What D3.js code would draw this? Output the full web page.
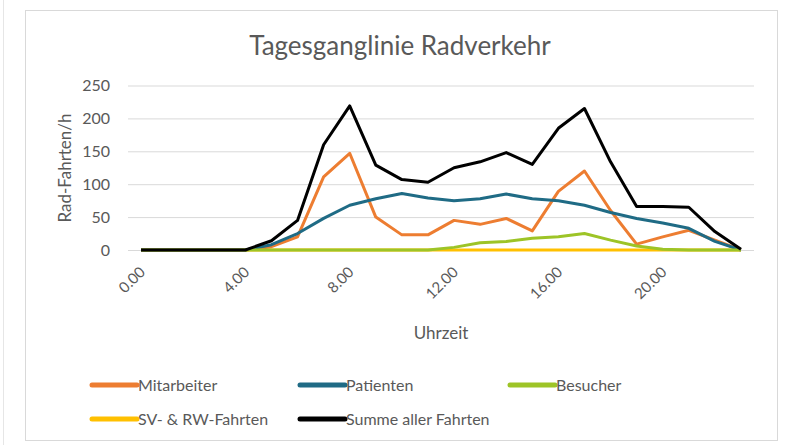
<!DOCTYPE html>
<html lang="de">
<head>
	<meta charset="UTF-8">
	<title>Tagesganglinie Radverkehr</title>
	<script src="https://cdnjs.cloudflare.com/ajax/libs/d3/7.8.5/d3.min.js"></script>
	<style>
		html,body{margin:0;padding:0;background:#fff;}
		svg{display:block;font-family:Lato,"Open Sans",sans-serif;}
	</style>
</head>
<body>
	<svg id="svg" width="790" height="445"></svg>
	<script>
		// hourly values
		var hours = ["0.00","1.00","2.00","3.00","4.00","5.00","6.00","7.00","8.00","9.00","10.00","11.00",
			"12.00","13.00","14.00","15.00","16.00","17.00","18.00","19.00","20.00","21.00","22.00","23.00"];
		var tickLabels = ["0.00","4.00","8.00","12.00","16.00","20.00"];
		var yTicks = [0,50,100,150,200,250];

		var mitarbeiter = [0,0,0,0,0,5,20,111,147,50,23,23,45,39,48,29,89,120,60,9,20,30,15,0];
		var patienten   = [0,0,0,0,0,8,25,48,68,78,86,79,75,78,85,78,75,68,57,48,41,33,13,0];
		var besucher    = [0,0,0,0,0,0,0,0,0,0,0,0,4,11,13,18,20,25,15,6,1,0,0,0];
		var svrw        = [0,0,0,0,0,0,0,0,0,0,0,0,0,0,0,0,0,0,0,0,0,0,0,0];
		var summe       = [0,0,0,0,0,14,45,160,219,129,107,103,125,134,148,130,185,215,134,66,66,65,28,1];

		var seriesNames = ["Mitarbeiter","Patienten","Besucher","SV- & RW-Fahrten","Summe aller Fahrten"];
		var seriesColors = ["#ED7D31","#1F6B85","#9DC427","#FFC000","#000000"];
		var seriesValues = [mitarbeiter,patienten,besucher,svrw,summe];
		// SV line sits under the others, it is hidden in the picture
		var drawOrder = [3,0,1,2,4];

		var svg = d3.select("#svg");

		svg.append("line")
			.attr("x1",3.5).attr("x2",3.5)
			.attr("y1",0).attr("y2",445)
			.attr("stroke","#e6e6e6");

		// chart frame
		svg.append("rect")
			.attr("x",25.5).attr("y",10.5)
			.attr("width",752).attr("height",430)
			.attr("fill","#fff")
			.attr("stroke","#d9d9d9");

		svg.append("text")
			.attr("x",400).attr("y",55)
			.attr("text-anchor","middle")
			.attr("font-size",26)
			.attr("fill","#595959")
			.text("Tagesganglinie Radverkehr");

		var x = d3.scalePoint()
			.domain(hours)
			.range([128,754])
			.padding(0.5);
		var y = d3.scaleLinear()
			.domain([0,250])
			.range([250,85.5]);

		// gridlines + y labels
		var yAxis = svg.append("g")
			.attr("transform","translate(128,0)")
			.call(d3.axisLeft(y).tickValues(yTicks).tickSize(-626).tickPadding(18));
		yAxis.select(".domain").remove();
		yAxis.selectAll(".tick line").attr("stroke","#d9d9d9");
		yAxis.selectAll(".tick text")
			.attr("fill","#595959")
			.attr("font-size",16)
			.attr("font-family","Lato,'Open Sans',sans-serif");

		// x labels, rotated
		svg.append("g")
			.selectAll("text")
			.data(tickLabels)
			.enter().append("text")
			.attr("text-anchor","end")
			.attr("font-size",15)
			.attr("fill","#595959")
			.attr("transform",(d)=>{
				return "translate("+(x(d)+5)+",273) rotate(-45)"
			})
			.text((d)=>d);

		svg.append("text")
			.attr("transform","translate(71,168) rotate(-90)")
			.attr("text-anchor","middle")
			.attr("font-size",17)
			.attr("fill","#595959")
			.text("Rad-Fahrten/h");

		svg.append("text")
			.attr("x",441).attr("y",339)
			.attr("text-anchor","middle")
			.attr("font-size",17)
			.attr("fill","#595959")
			.text("Uhrzeit");

		var line = d3.line()
			.x((d,i)=>x(hours[i]))
			.y((d)=>y(d));

		svg.append("g")
			.selectAll("path")
			.data(drawOrder)
			.enter().append("path")
			.attr("d",(k)=>line(seriesValues[k]))
			.attr("fill","none")
			.attr("stroke",(k)=>seriesColors[k])
			.attr("stroke-width",3)
			.attr("stroke-linejoin","round");

		// legend
		var legendPos = [[92,385],[300,385],[510,385],[92,419],[300,419]];
		var legend = svg.append("g")
			.selectAll("g")
			.data(seriesNames)
			.enter().append("g")
			.attr("transform",(d,i)=>"translate("+legendPos[i][0]+","+legendPos[i][1]+")");
		legend.append("line")
			.attr("x1",0).attr("x2",45)
			.attr("stroke",(d,i)=>seriesColors[i])
			.attr("stroke-width",5)
			.attr("stroke-linecap","round");
		legend.append("text")
			.attr("x",46).attr("y",6)
			.attr("font-size",16)
			.attr("fill","#595959")
			.text((d)=>d);
	</script>
</body>
</html>
